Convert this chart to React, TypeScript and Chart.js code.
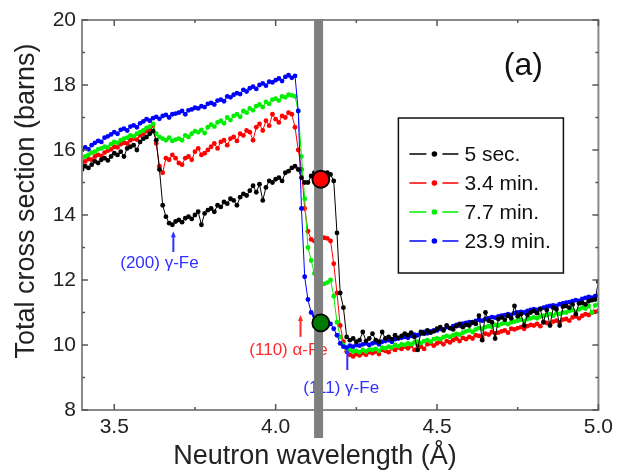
import React, { useEffect, useRef } from 'react';
import { Chart, registerables } from 'chart.js';

Chart.register(...registerables);

// Neutron wavelength (Å)
const wavelengths = [
  3.40, 3.41, 3.42, 3.43, 3.44, 3.45, 3.46, 3.47, 3.48, 3.49,
  3.50, 3.51, 3.52, 3.53, 3.54, 3.55, 3.56, 3.57, 3.58, 3.59,
  3.60, 3.61, 3.62, 3.63, 3.64, 3.65, 3.66, 3.67, 3.68, 3.69,
  3.70, 3.71, 3.72, 3.73, 3.74, 3.75, 3.76, 3.77, 3.78, 3.79,
  3.80, 3.81, 3.82, 3.83, 3.84, 3.85, 3.86, 3.87, 3.88, 3.89,
  3.90, 3.91, 3.92, 3.93, 3.94, 3.95, 3.96, 3.97, 3.98, 3.99,
  4.00, 4.01, 4.02, 4.03, 4.04, 4.05, 4.06, 4.07, 4.08, 4.09,
  4.10, 4.11, 4.12, 4.13, 4.14, 4.15, 4.16, 4.17, 4.18, 4.19,
  4.20, 4.21, 4.22, 4.23, 4.24, 4.25, 4.26, 4.27, 4.28, 4.29,
  4.30, 4.31, 4.32, 4.33, 4.34, 4.35, 4.36, 4.37, 4.38, 4.39,
  4.40, 4.41, 4.42, 4.43, 4.44, 4.45, 4.46, 4.47, 4.48, 4.49,
  4.50, 4.51, 4.52, 4.53, 4.54, 4.55, 4.56, 4.57, 4.58, 4.59,
  4.60, 4.61, 4.62, 4.63, 4.64, 4.65, 4.66, 4.67, 4.68, 4.69,
  4.70, 4.71, 4.72, 4.73, 4.74, 4.75, 4.76, 4.77, 4.78, 4.79,
  4.80, 4.81, 4.82, 4.83, 4.84, 4.85, 4.86, 4.87, 4.88, 4.89,
  4.90, 4.91, 4.92, 4.93, 4.94, 4.95, 4.96, 4.97, 4.98, 4.99,
  5.00,
];

// Total cross section (barns) — 5 sec.
const sec5 = [
  15.40, 15.50, 15.45, 15.55, 15.65, 15.60, 15.70, 15.75, 15.68, 15.80,
  15.90, 15.85, 15.95, 15.80, 16.05, 16.10, 16.15, 16.00, 16.25, 16.35,
  16.40, 16.50, 16.58, 16.30, 15.40, 14.30, 13.95, 13.75, 13.70, 13.80,
  13.85, 13.78, 13.90, 13.95, 13.88, 14.00, 14.10, 13.70, 14.05, 14.15,
  14.20, 14.10, 14.30, 14.25, 14.40, 14.35, 14.50, 14.45, 14.30, 14.55,
  14.65, 14.60, 14.75, 14.90, 14.70, 14.95, 14.45, 14.85, 15.05, 15.00,
  15.10, 15.15, 15.05, 15.30, 15.35, 15.45, 15.50, 15.40, 15.15, 15.00,
  15.00, 15.20, 15.30, 15.25, 15.28, 15.22, 15.30, 15.25, 15.05, 13.45,
  11.60, 11.15, 10.25, 10.15, 10.20, 10.10, 10.15, 10.40, 10.12, 10.20,
  10.35, 10.15, 10.10, 10.40, 10.20, 10.25, 10.18, 10.30, 10.22, 10.28,
  10.35, 10.30, 10.38, 10.25, 9.85, 10.40, 10.35, 10.45, 10.38, 10.42,
  10.50, 10.55, 10.45, 10.60, 10.52, 10.48, 10.58, 10.65, 10.55, 10.62,
  10.60, 10.70, 10.65, 10.90, 10.15, 11.00, 10.75, 10.70, 10.20, 10.80,
  10.85, 10.78, 10.90, 10.82, 11.20, 10.88, 10.95, 10.60, 10.92, 11.00,
  11.05, 10.98, 11.10, 10.70, 11.08, 10.60, 11.15, 11.10, 10.60, 11.18,
  11.20, 11.15, 11.25, 10.95, 11.28, 11.30, 11.25, 11.35, 11.38, 11.40,
  11.95,
];

// 3.4 min.
const min3_4 = [
  15.60, 15.65, 15.72, 15.70, 15.80, 15.85, 15.82, 15.92, 15.98, 16.02,
  16.10, 16.08, 16.18, 16.22, 16.20, 16.30, 16.35, 16.32, 16.45, 16.50,
  16.58, 16.65, 16.75, 16.20, 15.50, 15.30, 15.75, 15.70, 15.85, 15.75,
  15.60, 15.55, 15.75, 15.80, 15.70, 15.95, 16.05, 15.85, 15.90, 16.00,
  16.10, 16.20, 16.05, 16.25, 16.30, 16.15, 16.35, 16.40, 16.28, 16.50,
  16.45, 16.60, 16.55, 16.30, 16.70, 16.80, 16.60, 16.90, 16.75, 17.10,
  16.95, 16.85, 17.05, 17.00, 17.15, 17.10, 16.70, 16.00, 15.40, 14.20,
  13.50, 13.25, 13.20, 13.22, 13.25, 13.30, 13.28, 13.20, 12.50, 11.60,
  10.60, 10.10, 9.80, 9.70, 9.65, 9.72, 9.68, 9.75, 9.70, 9.78,
  9.75, 9.80, 9.72, 9.85, 9.82, 9.78, 9.90, 9.85, 9.92, 9.88,
  9.95, 9.90, 9.98, 9.85, 10.00, 9.95, 9.88, 10.02, 10.05, 9.98,
  10.05, 10.10, 10.02, 10.12, 10.08, 10.15, 10.20, 10.12, 10.22, 10.18,
  10.25, 10.20, 10.30, 10.28, 10.22, 10.35, 10.32, 10.40, 10.36, 10.38,
  10.42, 10.45, 10.38, 10.50, 10.48, 10.52, 10.55, 10.50, 10.58, 10.62,
  10.60, 10.65, 10.58, 10.70, 10.68, 10.62, 10.72, 10.75, 10.70, 10.78,
  10.80, 10.75, 10.85, 10.88, 10.82, 10.90, 10.95, 10.92, 11.00, 11.02,
  11.05,
];

// 7.7 min.
const min7_7 = [
  15.75, 15.80, 15.85, 15.92, 15.95, 16.02, 16.05, 16.10, 16.08, 16.18,
  16.25, 16.22, 16.30, 16.35, 16.38, 16.45, 16.42, 16.50, 16.55, 16.60,
  16.68, 16.72, 16.80, 16.50, 16.40, 16.35, 16.30, 16.38, 16.28, 16.32,
  16.35, 16.30, 16.45, 16.40, 16.50, 16.58, 16.55, 16.62, 16.52, 16.70,
  16.78, 16.72, 16.85, 16.90, 16.82, 17.00, 16.92, 17.05, 17.10, 17.02,
  17.20, 17.15, 17.28, 17.22, 17.35, 17.40, 17.32, 17.48, 17.42, 17.55,
  17.58, 17.52, 17.65, 17.62, 17.70, 17.68, 17.65, 17.20, 15.80, 14.50,
  13.00, 12.60, 12.20, 11.95, 11.85, 11.88, 11.92, 12.00, 11.50, 10.70,
  10.25, 10.00, 9.88, 9.85, 9.80, 9.82, 9.78, 9.85, 9.80, 9.86,
  9.85, 9.88, 9.82, 9.92, 9.90, 9.95, 9.92, 10.00, 9.96, 10.02,
  10.00, 10.05, 10.02, 10.08, 10.10, 10.06, 10.12, 10.15, 10.10, 10.18,
  10.20, 10.18, 10.24, 10.28, 10.25, 10.30, 10.34, 10.32, 10.38, 10.42,
  10.45, 10.40, 10.48, 10.52, 10.50, 10.55, 10.58, 10.56, 10.62, 10.60,
  10.65, 10.68, 10.64, 10.70, 10.72, 10.75, 10.78, 10.74, 10.80, 10.82,
  10.85, 10.82, 10.88, 10.90, 10.92, 10.95, 10.90, 10.98, 10.96, 11.00,
  11.00, 11.05, 11.08, 11.02, 11.10, 11.15, 11.12, 11.20, 11.00, 11.22,
  11.25,
];

// 23.9 min.
const min23_9 = [
  16.00, 16.08, 16.02, 16.15, 16.22, 16.28, 16.25, 16.38, 16.42, 16.48,
  16.55, 16.50, 16.62, 16.66, 16.60, 16.72, 16.76, 16.70, 16.82, 16.88,
  16.95, 16.90, 16.98, 17.02, 16.96, 17.05, 17.08, 17.00, 17.10, 17.12,
  17.15, 17.20, 17.10, 17.22, 17.25, 17.30, 17.28, 17.35, 17.32, 17.42,
  17.45, 17.40, 17.52, 17.55, 17.50, 17.65, 17.62, 17.70, 17.75, 17.72,
  17.85, 17.80, 17.90, 17.95, 17.88, 18.00, 18.05, 17.98, 18.10, 18.08,
  18.15, 18.20, 18.12, 18.25, 18.30, 18.22, 18.28, 17.20, 14.20, 12.10,
  11.40, 11.00, 10.90, 10.85, 10.80, 10.75, 10.72, 10.65, 10.50, 10.30,
  10.05, 9.95, 9.92, 9.98, 9.95, 10.00, 9.98, 10.02, 10.05, 10.00,
  10.05, 10.08, 10.02, 10.10, 10.12, 10.15, 10.10, 10.18, 10.20, 10.22,
  10.25, 10.22, 10.28, 10.32, 10.30, 10.35, 10.40, 10.36, 10.42, 10.45,
  10.45, 10.50, 10.48, 10.55, 10.52, 10.58, 10.62, 10.60, 10.66, 10.68,
  10.70, 10.68, 10.74, 10.78, 10.75, 10.80, 10.82, 10.86, 10.84, 10.88,
  10.90, 10.92, 10.95, 10.93, 10.98, 11.00, 11.02, 11.00, 11.05, 11.08,
  11.10, 11.08, 11.12, 11.15, 11.18, 11.20, 11.22, 11.20, 11.26, 11.28,
  11.30, 11.32, 11.35, 11.38, 11.36, 11.42, 11.45, 11.48, 11.46, 11.50,
  11.52,
];

const seriesLabels = ['5 sec.', '3.4 min.', '7.7 min.', '23.9 min.'];
const seriesValues = [sec5, min3_4, min7_7, min23_9];
const seriesColors = ['#000000', '#ff0000', '#00ee00', '#0000ff'];
const seriesOrder = [0, 3, 2, 1];

const xTickValues = [3.5, 4.0, 4.5, 5.0];
const xMinorTickValues = [3.75, 4.25, 4.75];
const yTickValues = [8, 10, 12, 14, 16, 18, 20];
const yMinorTickValues = [9, 11, 13, 15, 17, 19];

const xTitle = 'Neutron wavelength (Å)';
const yTitle = 'Total cross section (barns)';
const panelLabel = '(a)';

const bandWavelength = 4.133;
const markerWavelengths = [4.14, 4.14];
const markerValues = [15.1, 10.68];
const markerColors = ['#ff0000', '#007a00'];

const annotationTexts = ['(200) γ-Fe', '(110) α-Fe', '(111) γ-Fe'];
const annotationColors = ['#3030ff', '#ff2a2a', '#3030ff'];
const annotationTextX = [3.64, 4.04, 4.203];
const annotationTextY = [12.52, 9.85, 8.68];
const annotationArrowX = [3.683, 4.077, 4.222];
const annotationArrowTop = [13.5, 10.92, 9.91];
const annotationArrowBottom = [12.86, 10.25, 9.23];

const FONT = "'Liberation Sans', Arial, Helvetica, sans-serif";

const overlayPlugin = {
  id: 'overlay',
  afterDatasetsDraw(chart: any) {
    const { ctx, chartArea: ca, scales } = chart;
    const xs = scales.x;
    const ys = scales.y;
    ctx.save();

    // annotations
    ctx.textAlign = 'center';
    ctx.textBaseline = 'middle';
    ctx.font = `17px ${FONT}`;
    annotationTexts.forEach((t, i) => {
      const c = annotationColors[i];
      ctx.fillStyle = c;
      ctx.strokeStyle = c;
      ctx.fillText(t, xs.getPixelForValue(annotationTextX[i]), ys.getPixelForValue(annotationTextY[i]));
      const ax = xs.getPixelForValue(annotationArrowX[i]);
      const at = ys.getPixelForValue(annotationArrowTop[i]);
      const ab = ys.getPixelForValue(annotationArrowBottom[i]);
      ctx.lineWidth = 2;
      ctx.beginPath();
      ctx.moveTo(ax, ab);
      ctx.lineTo(ax, at + 4);
      ctx.stroke();
      ctx.beginPath();
      ctx.moveTo(ax, at);
      ctx.lineTo(ax - 2.5, at + 6);
      ctx.lineTo(ax + 2.5, at + 6);
      ctx.closePath();
      ctx.fill();
    });

    // frame
    ctx.strokeStyle = '#8a8a8a';
    ctx.lineWidth = 2;
    ctx.strokeRect(ca.left, ca.top, ca.right - ca.left, ca.bottom - ca.top);

    // inward ticks
    ctx.lineWidth = 1.5;
    ctx.strokeStyle = '#555';
    const tick = (x1: number, y1: number, x2: number, y2: number) => {
      ctx.beginPath();
      ctx.moveTo(x1, y1);
      ctx.lineTo(x2, y2);
      ctx.stroke();
    };
    xTickValues.forEach((v) => {
      const px = xs.getPixelForValue(v);
      tick(px, ca.bottom, px, ca.bottom - 6);
      tick(px, ca.top, px, ca.top + 6);
    });
    xMinorTickValues.forEach((v) => {
      const px = xs.getPixelForValue(v);
      tick(px, ca.bottom, px, ca.bottom - 3);
      tick(px, ca.top, px, ca.top + 3);
    });
    yTickValues.forEach((v) => {
      const py = ys.getPixelForValue(v);
      tick(ca.left, py, ca.left + 6, py);
      tick(ca.right, py, ca.right - 6, py);
    });
    yMinorTickValues.forEach((v) => {
      const py = ys.getPixelForValue(v);
      tick(ca.left, py, ca.left + 3, py);
      tick(ca.right, py, ca.right - 3, py);
    });

    // gray band
    const bx = xs.getPixelForValue(bandWavelength);
    ctx.fillStyle = '#7f7f7f';
    ctx.fillRect(bx - 4.5, ca.top - 1, 9, ca.bottom - ca.top + 29);

    // markers
    markerValues.forEach((v, i) => {
      ctx.beginPath();
      ctx.arc(xs.getPixelForValue(markerWavelengths[i]), ys.getPixelForValue(v), 8.5, 0, Math.PI * 2);
      ctx.fillStyle = markerColors[i];
      ctx.fill();
      ctx.lineWidth = 1.8;
      ctx.strokeStyle = '#000';
      ctx.stroke();
    });

    // legend box
    const lx = ca.right - 200;
    const ly = ca.top + 98;
    ctx.lineWidth = 1.5;
    ctx.strokeStyle = '#111';
    ctx.strokeRect(lx, ly, 165, 155);
    ctx.font = `21px ${FONT}`;
    ctx.textAlign = 'left';
    ctx.textBaseline = 'middle';
    seriesLabels.forEach((label, i) => {
      const yy = ly + 36 + 29 * i;
      const c = seriesColors[i];
      ctx.strokeStyle = c;
      ctx.fillStyle = c;
      ctx.lineWidth = 1.5;
      tick(lx + 11, yy, lx + 28, yy);
      tick(lx + 44, yy, lx + 60, yy);
      ctx.beginPath();
      ctx.arc(lx + 36, yy, 2.8, 0, Math.PI * 2);
      ctx.fill();
      ctx.fillStyle = '#111';
      ctx.fillText(label, lx + 66, yy + 1);
    });

    // panel label
    ctx.font = `32px ${FONT}`;
    ctx.textAlign = 'center';
    ctx.fillStyle = '#111';
    ctx.fillText(panelLabel, ca.right - 75, ca.top + 46);

    // axis titles
    ctx.font = `27px ${FONT}`;
    ctx.fillStyle = '#222';
    ctx.fillText(xTitle, ca.left + 233, ca.bottom + 47);
    ctx.save();
    ctx.translate(27, ca.top + 181);
    ctx.rotate(-Math.PI / 2);
    ctx.fillText(yTitle, 0, 0);
    ctx.restore();

    ctx.restore();
  },
};

export default function App() {
  const ref = useRef<HTMLCanvasElement | null>(null);

  useEffect(() => {
    document.body.style.margin = '0';
    const canvas = ref.current;
    if (!canvas) return;
    const datasets = seriesLabels.map((label, i) => ({
      label,
      data: wavelengths.map((w, j) => ({ x: w, y: seriesValues[i][j] })),
      borderColor: seriesColors[i],
      backgroundColor: seriesColors[i],
      borderWidth: 1,
      pointRadius: 2.4,
      pointBorderWidth: 0,
      pointBackgroundColor: seriesColors[i],
      showLine: true,
      order: seriesOrder[i],
    }));
    const chart = new Chart(canvas, {
      type: 'scatter',
      data: { datasets },
      options: {
        animation: false,
        responsive: false,
        devicePixelRatio: 1,
        layout: { padding: { top: 20, right: 16, left: 0, bottom: 0 } },
        plugins: { legend: { display: false }, tooltip: { enabled: false } },
        scales: {
          x: {
            type: 'linear',
            min: 3.4,
            max: 5.0,
            grid: { display: false, drawTicks: false },
            border: { display: false },
            ticks: {
              font: { family: FONT, size: 21 },
              color: '#222',
              padding: 5,
              maxRotation: 0,
              autoSkip: false,
              callback: (v: any) => Number(v).toFixed(1),
            },
            afterBuildTicks: (s: any) => {
              s.ticks = xTickValues.map((v) => ({ value: v }));
            },
            afterFit: (s: any) => {
              s.height = 64;
            },
          },
          y: {
            type: 'linear',
            min: 8,
            max: 20,
            grid: { display: false, drawTicks: false },
            border: { display: false },
            ticks: {
              font: { family: FONT, size: 21 },
              color: '#222',
              padding: 6,
              autoSkip: false,
              callback: (v: any) => String(v),
            },
            afterBuildTicks: (s: any) => {
              s.ticks = yTickValues.map((v) => ({ value: v }));
            },
            afterFit: (s: any) => {
              s.width = 82;
            },
          },
        },
      },
      plugins: [overlayPlugin],
    });
    return () => chart.destroy();
  }, []);

  return (
    <div style={{ width: 618, height: 474, background: '#fff' }}>
      <canvas ref={ref} width={618} height={474} style={{ display: 'block' }} />
    </div>
  );
}
